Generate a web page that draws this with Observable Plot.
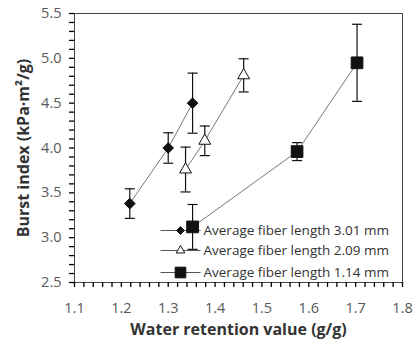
<!DOCTYPE html>
<html>
<head>
<meta charset="utf-8">
<script src="https://cdn.jsdelivr.net/npm/d3@7"></script>
<script src="https://cdn.jsdelivr.net/npm/@observablehq/plot@0.6"></script>
<style>
  body { margin: 0; background: #fff; }
  #chart svg { display: block; }
</style>
</head>
<body>
<div id="chart"></div>
<script>
const seriesNames = ["Average fiber length 3.01 mm", "Average fiber length 2.09 mm", "Average fiber length 1.14 mm"];
const wrv301 = [1.218, 1.300, 1.352];
const burst301 = [3.38, 4.00, 4.50];
const err301 = [0.165, 0.17, 0.335];
const wrv209 = [1.337, 1.378, 1.461];
const burst209 = [3.76, 4.08, 4.81];
const err209 = [0.25, 0.165, 0.185];
const wrv114 = [1.352, 1.575, 1.703];
const burst114 = [3.12, 3.96, 4.95];
const err114 = [0.25, 0.10, 0.43];
const xTicks = [1.1, 1.2, 1.3, 1.4, 1.5, 1.6, 1.7, 1.8];
const yTicks = [2.5, 3.0, 3.5, 4.0, 4.5, 5.0, 5.5];
const xMinor = d3.range(0, 36).map(i => +(1.1 + i * 0.02).toFixed(2));
const yMinor = d3.range(0, 31).map(i => +(2.5 + i * 0.1).toFixed(1));

const symbols = ["diamond2", "triangle", "square"];
const fills = ["#111", "white", "#111"];
const radii = [4.8, 4.4, 6.6];
const legendR = [3.5, 3.2, 6.0];

const raw = [[wrv301, burst301, err301], [wrv209, burst209, err209], [wrv114, burst114, err114]];
const data = raw.flatMap(([xs, ys, es], s) => xs.map((x, i) => ({
  s, series: seriesNames[s], x, y: ys[i], lo: ys[i] - es[i], hi: ys[i] + es[i]
})));

const capSymbol = {draw(ctx) { ctx.moveTo(-5, 0); ctx.lineTo(5, 0); }};
const legendLine = {draw(ctx) { ctx.moveTo(-20, 0); ctx.lineTo(20, 0); }};

const W = 416, H = 347, ML = 74, MR = 14, MT = 13, MB = 65;
const frameW = W - ML - MR, frameH = H - MT - MB;
const tickLen = 5;

const font = "'Open Sans', 'Noto Sans', sans-serif";
const legendDy = [-52, -32, -10];

const marks = [
  Plot.frame({stroke: "#444", strokeWidth: 1}),
  // outward ticks along the bottom and left axes
  Plot.tickX(xMinor, {x: d => d, insetTop: frameH - tickLen, dy: tickLen, stroke: "#000", strokeWidth: 1.3}),
  Plot.tickY(yMinor, {y: d => d, insetRight: frameW - tickLen, dx: -tickLen, stroke: "#000", strokeWidth: 1.3}),
  Plot.axisX({ticks: xTicks, tickSize: 0, tickPadding: 20, tickFormat: d => d.toFixed(1), label: null, fontSize: 14.5, color: "#595959"}),
  Plot.axisY({ticks: yTicks, tickSize: 0, tickPadding: 13, tickFormat: d => d.toFixed(1), label: null, fontSize: 14.5, color: "#595959"}),
  Plot.text([0], {frameAnchor: "left", text: () => "Burst index (kPa·m²/g)", rotate: -90, dx: -51, textAnchor: "middle", lineAnchor: "middle", fontWeight: "bold", fontSize: 16, fill: "#333"}),
  Plot.text([0], {frameAnchor: "bottom", text: () => "Water retention value (g/g)", dy: 47, textAnchor: "middle", lineAnchor: "middle", fontWeight: "bold", fontSize: 16, fill: "#333"}),
  // legend
  ...seriesNames.flatMap((name, i) => [
    Plot.dot([0], {frameAnchor: "bottom-left", dx: 106, dy: legendDy[i], symbol: () => legendLine, stroke: "#555", strokeWidth: 1, r: 1}),
    Plot.dot([0], {frameAnchor: "bottom-left", dx: 106, dy: legendDy[i], symbol: () => symbols[i], fill: fills[i], stroke: "#111", strokeWidth: 1, r: legendR[i]}),
    Plot.text([0], {frameAnchor: "bottom-left", dx: 129, dy: legendDy[i], text: () => name, textAnchor: "start", lineAnchor: "middle", fontSize: 13.5, fill: "#333"})
  ]),
  // data
  Plot.line(data, {x: "x", y: "y", z: "series", stroke: "#777", strokeWidth: 1}),
  Plot.ruleX(data, {x: "x", y1: "lo", y2: "hi", stroke: "#111", strokeWidth: 1.2}),
  Plot.dot(data, {x: "x", y: "hi", symbol: () => capSymbol, stroke: "#111", strokeWidth: 1.2, r: 1}),
  Plot.dot(data, {x: "x", y: "lo", symbol: () => capSymbol, stroke: "#111", strokeWidth: 1.2, r: 1}),
  Plot.dot(data, {x: "x", y: "y", symbol: d => symbols[d.s], fill: d => fills[d.s], stroke: "#111", strokeWidth: 1, r: d => radii[d.s]})
];

const chart = Plot.plot({
  width: W,
  height: H,
  marginLeft: ML,
  marginRight: MR,
  marginTop: MT,
  marginBottom: MB,
  style: {fontFamily: font, background: "white", overflow: "visible"},
  x: {domain: [1.1, 1.8], axis: null},
  y: {domain: [2.5, 5.5], axis: null},
  r: {type: "identity"},
  symbol: {type: "identity"},
  marks
});
document.getElementById("chart").appendChild(chart);
</script>
</body>
</html>
